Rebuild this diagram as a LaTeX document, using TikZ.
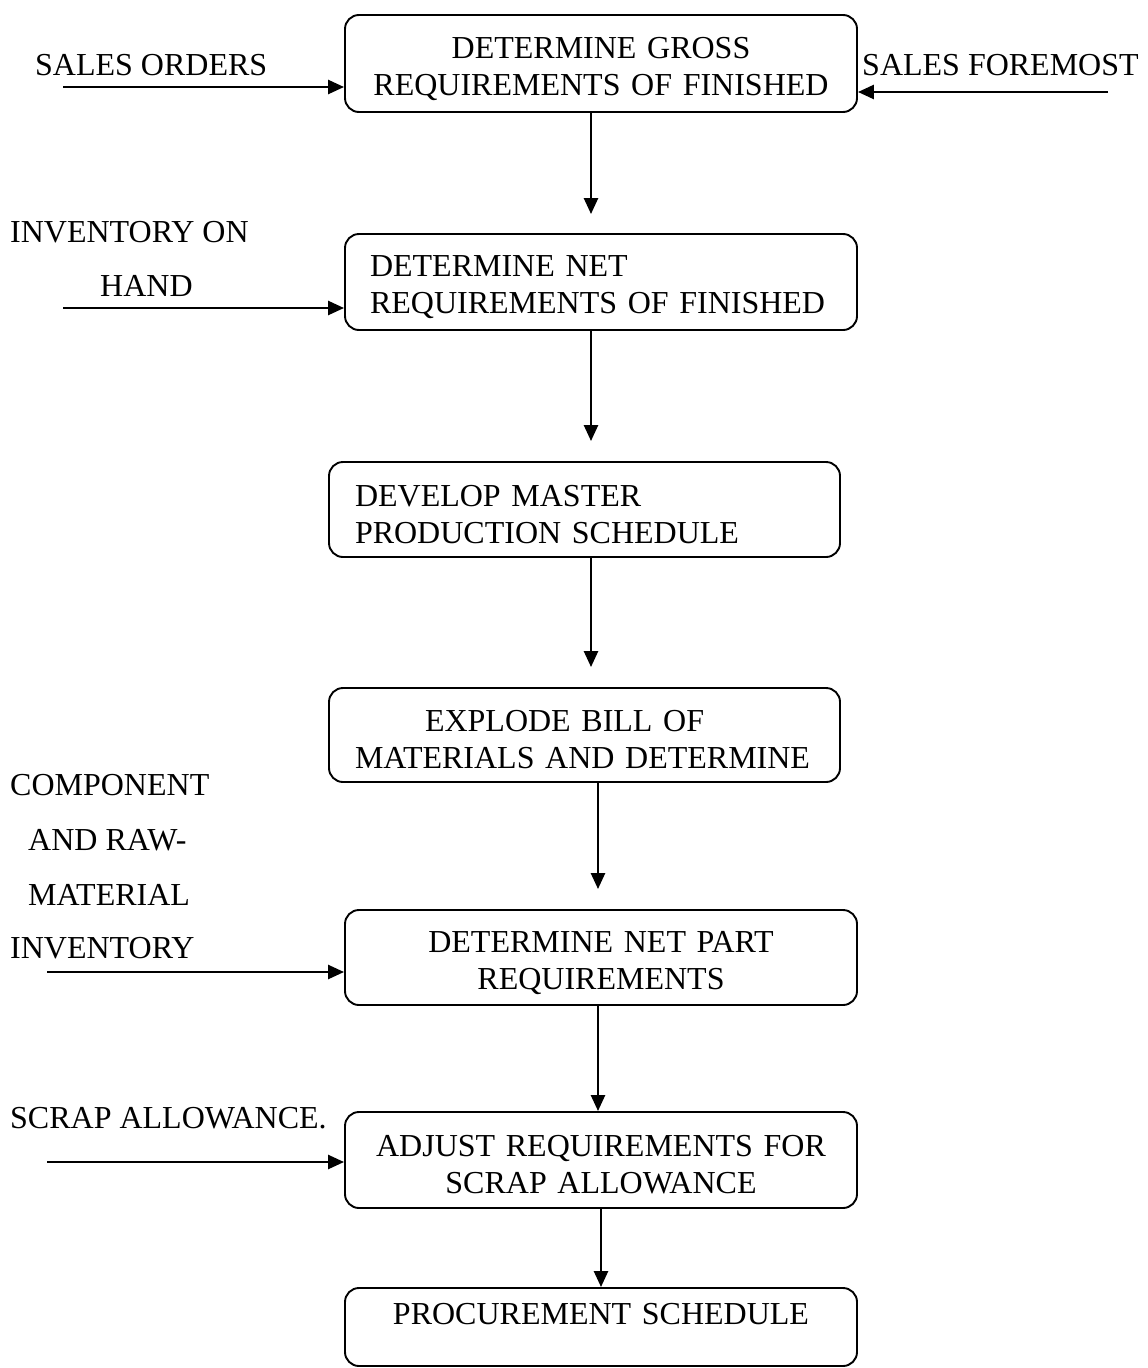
\documentclass[tikz,border=0pt]{standalone}
\usepackage{fontspec}
\setmainfont{Liberation Serif}
\usetikzlibrary{arrows.meta}
\begin{document}
\begin{tikzpicture}[x=1pt,y=-1pt,
  txt/.style={font=\fontsize{32}{37}\selectfont},
  box/.style={draw, line width=1.9pt, rounded corners=14pt,
    minimum width=512pt, inner sep=0pt},
  ctext/.style={txt, inner sep=0pt, text width=462pt, align=center},
  ltext/.style={ctext, align=left},
  lbl/.style={txt, anchor=west, inner sep=0pt},
  arr/.style={line width=2.5pt, -{Triangle[length=16pt,width=14pt]}}]
\useasboundingbox (0,0) rectangle (1148,1368);

% process boxes
\node[box, minimum height=97pt] (b1) at (601,63.5) {};
\node[box, minimum height=96pt] (b2) at (601,282) {};
\node[box, minimum width=511pt, minimum height=95pt] (b3) at (584.5,509.5) {};
\node[box, minimum width=511pt, minimum height=94pt] (b4) at (584.5,735) {};
\node[box, minimum height=95pt] (b5) at (601,957.5) {};
\node[box, minimum height=96pt] (b6) at (601,1160) {};
\node[box, minimum height=78pt] (b7) at (601,1327) {};

% box captions
\node[ctext] (t1) at ([yshift=-5pt]b1.center) {DETERMINE GROSS\\REQUIREMENTS OF FINISHED};
\node[ltext] (t2) at ([yshift=-5pt]b2.center) {DETERMINE NET\\REQUIREMENTS OF FINISHED};
\node[ltext, text width=459pt] (t3) at ([yshift=-5pt]b3.center) {DEVELOP MASTER\\PRODUCTION SCHEDULE};
\node[ltext, text width=459pt] (t4) at ([yshift=-5pt]b4.center) {\hspace*{70pt}EXPLODE BILL OF\\MATERIALS AND DETERMINE};
\node[ctext] (t5) at ([yshift=-6pt]b5.center) {DETERMINE NET PART\\REQUIREMENTS};
\node[ctext] (t6) at ([yshift=-5pt]b6.center) {ADJUST REQUIREMENTS FOR\\SCRAP ALLOWANCE};
\node[ctext] (t7) at ([yshift=13pt]b7.center) {PROCUREMENT SCHEDULE};

% flow between boxes
\draw[arr, shorten >=19pt] ([xshift=-10pt]b1.south) -- ([xshift=-10pt]b2.north);
\draw[arr, shorten >=20pt] ([xshift=-10pt]b2.south) -- ([xshift=-10pt]b3.north -| b2.south);
\draw[arr, shorten >=20pt] ([xshift=6.5pt]b3.south) -- ([xshift=6.5pt]b4.north);
\draw[arr, shorten >=20pt] ([xshift=13.5pt]b4.south) -- ([xshift=13.5pt]b4.south |- b5.north);
\draw[arr] ([xshift=-3pt]b5.south) -- ([xshift=-3pt]b6.north);
\draw[arr] (b6.south) -- (b7.north);

% external inputs
\node[lbl] (so) at (35,65) {SALES ORDERS};
\node[lbl] (sf) at (862,65) {SALES FOREMOST};
\node[lbl] (ioh1) at (10,232) {INVENTORY ON};
\node[lbl] (ioh2) at (100,286) {HAND};
\node[lbl] (cr1) at (10,785) {COMPONENT};
\node[lbl] (cr2) at (28,840) {AND RAW-};
\node[lbl] (cr3) at (28,895) {MATERIAL};
\node[lbl] (cr4) at (10,948) {INVENTORY};
\node[lbl] (sa) at (10,1118) {SCRAP ALLOWANCE.};

\coordinate (in1) at (63,87);
\coordinate (in2) at (1108,92);
\coordinate (in3) at (63,308);
\coordinate (in4) at (47,972);
\coordinate (in5) at (47,1162);
\draw[arr] (in1) -- (in1 -| b1.west);
\draw[arr] (in2) -- (in2 -| b1.east);
\draw[arr] (in3) -- (in3 -| b2.west);
\draw[arr] (in4) -- (in4 -| b5.west);
\draw[arr] (in5) -- (in5 -| b6.west);
\end{tikzpicture}
\end{document}
